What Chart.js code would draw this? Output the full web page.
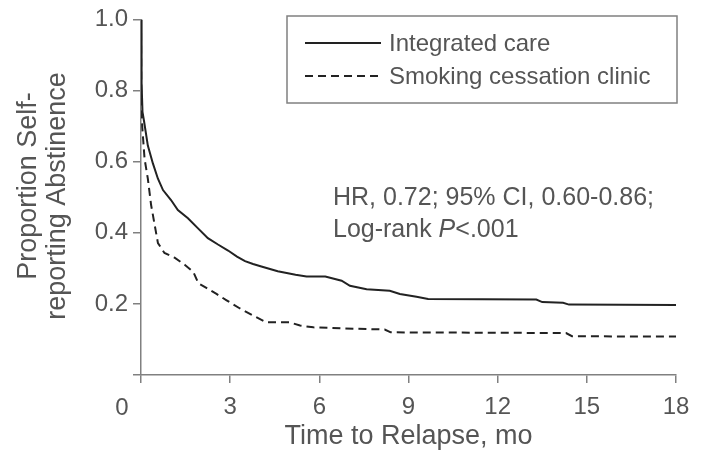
<!DOCTYPE html>
<html>
<head>
<meta charset="utf-8">
<script src="https://cdn.jsdelivr.net/npm/chart.js@4"></script>
<style>
  body { margin: 0; background: #fff; }
  #wrap { width: 702px; height: 453px; }
</style>
</head>
<body>
<div id="wrap"><canvas id="km" width="702" height="453"></canvas></div>
<script>
// months since quit date
const careTime = [0, 0.02, 0.05, 0.1, 0.23, 0.4, 0.57, 0.74, 1.01, 1.24, 1.58, 1.91, 2.25, 2.59, 2.93, 3.23, 3.5, 3.77, 4.05, 4.34, 4.6, 4.9, 5.2, 5.57, 6.2, 6.75, 7.03, 7.59, 8.37, 8.71, 9.27, 9.66, 13.3, 13.5, 14.2, 14.4, 18];
const careProp = [1.0, 0.82, 0.74, 0.715, 0.645, 0.595, 0.552, 0.52, 0.492, 0.464, 0.441, 0.413, 0.385, 0.367, 0.35, 0.333, 0.32, 0.312, 0.305, 0.298, 0.292, 0.287, 0.282, 0.277, 0.277, 0.265, 0.251, 0.241, 0.237, 0.228, 0.22, 0.214, 0.212, 0.205, 0.203, 0.198, 0.197];

const clinicTime = [0, 0.01, 0.04, 0.12, 0.23, 0.34, 0.46, 0.57, 0.79, 1.13, 1.47, 1.76, 1.93, 2.2, 2.54, 2.88, 3.33, 3.77, 4.22, 5.0, 5.35, 5.8, 7.25, 8.2, 8.4, 14.3, 14.5, 18];
const clinicProp = [1.0, 0.78, 0.70, 0.608, 0.552, 0.478, 0.422, 0.371, 0.343, 0.33, 0.31, 0.29, 0.258, 0.245, 0.228, 0.21, 0.187, 0.167, 0.148, 0.148, 0.139, 0.134, 0.13, 0.128, 0.12, 0.118, 0.109, 0.108];

const seriesNames = ["Integrated care", "Smoking cessation clinic"];
const xTickStep = 3;
const yTickStep = 0.2;

const textColor = "#555";
const axisColor = "#808080";
const lineColor = "#222";
const fontFamily = "'Liberation Sans', Arial, sans-serif";

function toPoints(xs, ys) {
  let pts = [];
  for (let i = 0; i < xs.length; i++) {
    pts.push({ x: xs[i], y: ys[i] });
  }
  return pts;
}

// legend box, stats text, y title and the shared origin "0"
const annotations = {
  id: "annotations",
  afterDraw(chart) {
    const c = chart.ctx;
    c.save();
    c.fillStyle = textColor;
    c.font = "24px " + fontFamily;

    // legend
    c.strokeStyle = axisColor;
    c.lineWidth = 1.5;
    c.strokeRect(287, 16, 390, 87);
    const rows = [43, 76];
    chart.data.datasets.forEach(function (ds, i) {
      c.beginPath();
      c.strokeStyle = ds.borderColor;
      c.lineWidth = ds.borderWidth;
      c.setLineDash(ds.borderDash || []);
      c.moveTo(305, rows[i]);
      c.lineTo(381, rows[i]);
      c.stroke();
      c.setLineDash([]);
      c.textAlign = "left";
      c.textBaseline = "middle";
      c.fillText(ds.label, 389, rows[i] + 1);
    });

    // HR text
    c.font = "25px " + fontFamily;
    c.textBaseline = "alphabetic";
    c.fillText("HR, 0.72; 95% CI, 0.60-0.86;", 333, 205);
    let x = 333;
    c.fillText("Log-rank ", x, 237);
    x += c.measureText("Log-rank ").width;
    c.font = "italic 25px " + fontFamily;
    c.fillText("P", x, 237);
    x += c.measureText("P").width;
    c.font = "25px " + fontFamily;
    c.fillText("<.001", x, 237);

    // y title, two lines
    c.font = "27px " + fontFamily;
    c.textAlign = "center";
    c.textBaseline = "middle";
    c.translate(29, 186);
    c.rotate(-Math.PI / 2);
    c.fillText("Proportion Self-", 0, 0);
    c.rotate(Math.PI / 2);
    c.translate(29, 10);
    c.rotate(-Math.PI / 2);
    c.fillText("reporting Abstinence", 0, 0);
    c.restore();

    // origin label
    c.save();
    c.fillStyle = textColor;
    c.font = "24px " + fontFamily;
    c.textAlign = "center";
    c.textBaseline = "middle";
    c.fillText("0", 122, 408);
    c.restore();
  },
};

new Chart(document.getElementById("km"), {
  type: "line",
  data: {
    datasets: [
      {
        label: seriesNames[0],
        data: toPoints(careTime, careProp),
        borderColor: lineColor,
        borderWidth: 2,
        pointRadius: 0,
        fill: false,
        tension: 0,
      },
      {
        label: seriesNames[1],
        data: toPoints(clinicTime, clinicProp),
        borderColor: lineColor,
        borderWidth: 2,
        borderDash: [8, 5],
        pointRadius: 0,
        fill: false,
        tension: 0,
      },
    ],
  },
  options: {
    responsive: false,
    animation: false,
    layout: { padding: { top: 16, right: 26, left: 0, bottom: 0 } },
    plugins: {
      legend: { display: false },
      tooltip: { enabled: false },
    },
    scales: {
      x: {
        type: "linear",
        min: 0,
        max: 18,
        afterFit: function (s) { s.height = 78; },
        ticks: {
          stepSize: xTickStep,
          autoSkip: false,
          maxRotation: 0,
          padding: 10,
          color: textColor,
          font: { family: fontFamily, size: 24 },
          callback: function (v) { return v === 0 ? "" : v; },
        },
        grid: { drawOnChartArea: false, tickLength: 8, color: axisColor, lineWidth: 1.5 },
        border: { color: axisColor, width: 1.5 },
        title: {
          display: true,
          text: "Time to Relapse, mo",
          color: textColor,
          font: { family: fontFamily, size: 27 },
          padding: { top: 0, bottom: 0 },
        },
      },
      y: {
        min: 0,
        max: 1,
        afterFit: function (s) { s.width = 141; },
        ticks: {
          stepSize: yTickStep,
          padding: 5,
          color: textColor,
          font: { family: fontFamily, size: 24 },
          callback: function (v) { return v === 0 ? "" : v.toFixed(1); },
        },
        grid: { drawOnChartArea: false, tickLength: 8, color: axisColor, lineWidth: 1.5 },
        border: { color: axisColor, width: 1.5 },
      },
    },
  },
  plugins: [annotations],
});
</script>
</body>
</html>
